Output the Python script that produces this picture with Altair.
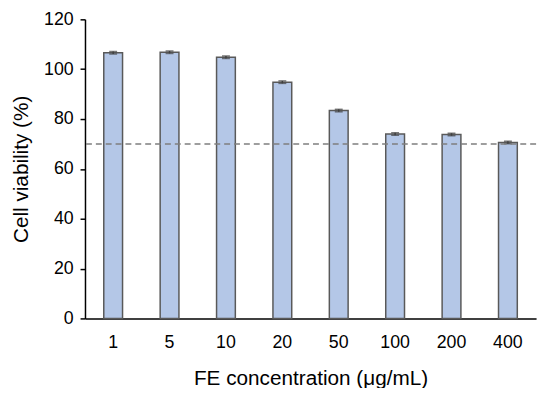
import altair as alt
import pandas as pd

concentrations = ["1", "5", "10", "20", "50", "100", "200", "400"]
viability = [106.6, 106.8, 104.8, 94.8, 83.4, 74.0, 73.8, 70.6]
errors = [0.5, 0.5, 0.5, 0.5, 0.5, 0.5, 0.5, 0.5]
threshold = [70]

df = pd.DataFrame({
    "conc": concentrations,
    "v": viability,
    "lo": [v - e for v, e in zip(viability, errors)],
    "hi": [v + e for v, e in zip(viability, errors)],
})
thr = pd.DataFrame({"t": threshold})

font = "Liberation Sans"
xenc = alt.X("conc:N", sort=concentrations,
             scale=alt.Scale(paddingInner=0.667, paddingOuter=0.333),
             axis=alt.Axis(title="FE concentration (μg/mL)", labelAngle=0, ticks=False,
                           domainColor="black", labelFontSize=18, titleFontSize=21,
                           labelColor="black", titleColor="black", labelPadding=15,
                           titlePadding=17, titleFontWeight="normal", labelFont=font, titleFont=font))
yscale = alt.Scale(domain=[0, 120])

bars = alt.Chart(df).mark_bar(color="#b4c7e7", stroke="#595959", strokeWidth=1.5).encode(
    x=xenc,
    y=alt.Y("v:Q", scale=yscale,
            axis=alt.Axis(title="Cell viability (%)", values=[0, 20, 40, 60, 80, 100, 120],
                          grid=False, domainColor="black", tickColor="black", tickSize=5,
                          labelFontSize=18, titleFontSize=21, labelColor="black",
                          titleColor="black", labelPadding=7, titlePadding=12,
                          titleFontWeight="normal", labelFont=font, titleFont=font)),
)
rule = alt.Chart(df).mark_rule(color="#404040", strokeWidth=1.5).encode(
    x=alt.X("conc:N", sort=concentrations), y="lo:Q", y2="hi:Q")
caps_hi = alt.Chart(df).mark_tick(color="#404040", thickness=1.5, size=8, orient="horizontal").encode(
    x=alt.X("conc:N", sort=concentrations), y="hi:Q")
caps_lo = alt.Chart(df).mark_tick(color="#404040", thickness=1.5, size=8, orient="horizontal").encode(
    x=alt.X("conc:N", sort=concentrations), y="lo:Q")
dash = alt.Chart(thr).mark_rule(color="#7f7f7f", strokeWidth=1.5, strokeDash=[6, 4]).encode(y="t:Q")

chart = alt.layer(bars, rule, caps_hi, caps_lo, dash).properties(
    width=457, height=303,
    autosize=alt.AutoSizeParams(type="none"),
    padding={"left": 78, "top": 9, "right": 6, "bottom": 68},
).configure_view(stroke=None).configure_axis(domainWidth=1.5, tickWidth=1.5)

chart.save("out.html", embed_options={"renderer": "svg", "actions": False})
